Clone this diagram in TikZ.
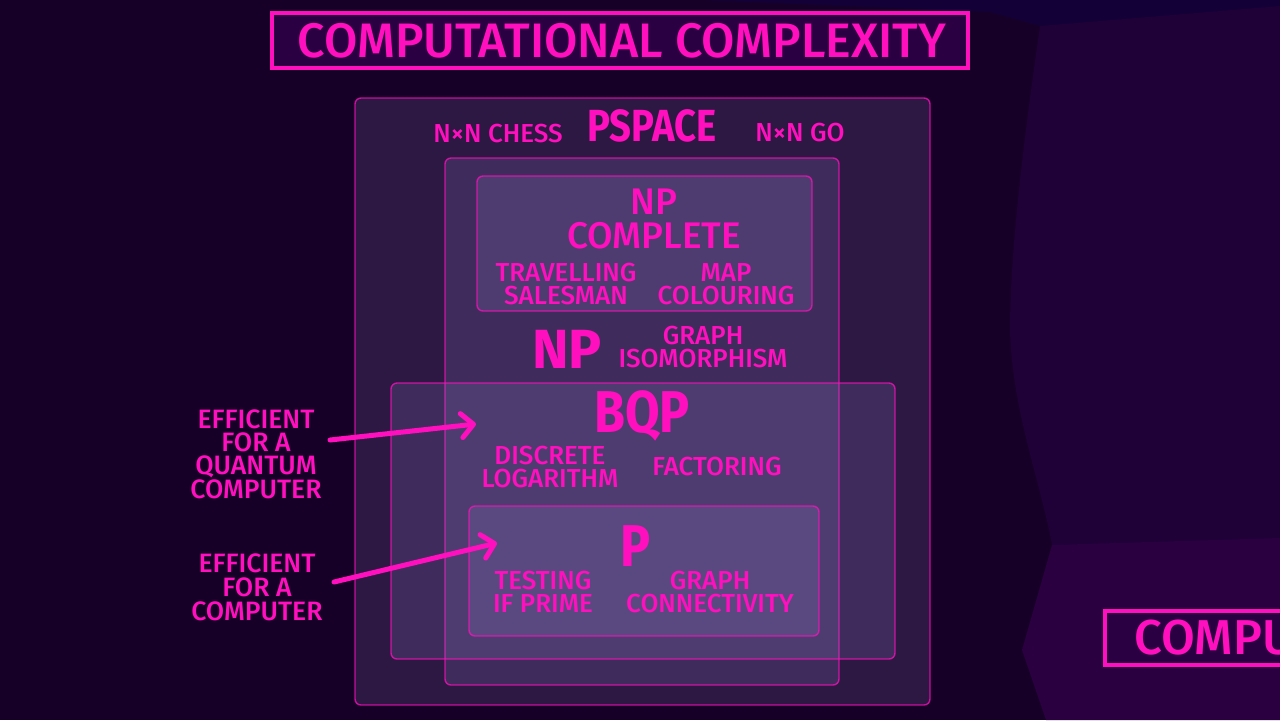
\documentclass[tikz,border=0pt]{standalone}
\usepackage{fontspec}
\setmainfont{Fira Sans}
\newfontfamily\bigfont{Fira Sans}[FakeStretch=0.85]
\newfontfamily\medfont{Fira Sans Medium}
\usetikzlibrary{arrows.meta}

\definecolor{bgdark}{HTML}{170027}
\definecolor{bgright}{HTML}{1F0037}
\definecolor{bgbottom}{HTML}{2A0040}
\definecolor{bgtop}{HTML}{130037}
\definecolor{neon}{HTML}{FF0FBE}
\definecolor{veil}{RGB}{150,135,205}
\definecolor{titlefill}{HTML}{2A0042}

\tikzset{
  classbox/.style={draw=neon, draw opacity=0.75, line width=0.7pt,
    fill=veil, fill opacity=0.18, rounded corners=3pt},
  titlebox/.style={draw=neon, line width=1.6pt, fill=titlefill},
  lbl/.style={text=neon, align=center, inner sep=0pt,
    font=\medfont\fontsize{13}{11.4}\selectfont},
  biglbl/.style={text=neon, align=center, inner sep=0pt},
  pointer/.style={->, draw=neon, line width=2.5pt, line cap=round}
}

\begin{document}
\begin{tikzpicture}[x=0.5pt, y=-0.5pt, >={Straight Barb[length=6pt,width=12pt,round]}]
    \clip (0,0) rectangle (1280,720);

    % 背景
    \fill[bgdark] (0,0) rectangle (1280,720);
    \fill[bgtop] (700,0) -- (1280,0) -- (1280,6) -- (1040,26) -- (990,12) -- cycle;
    \fill[bgright] (1040,26) -- (1280,6) -- (1280,540) -- (1052,545)
        .. controls (1040,480) and (1012,410) .. (1010,330)
        .. controls (1010,240) and (1028,110) .. (1040,26) -- cycle;
    \fill[bgbottom] (1052,545) -- (1280,538) -- (1280,720) -- (1046,720) -- (1022,650) -- cycle;

    % 标题
    \draw[titlebox] (272,13) rectangle (968,68);
    \node[text=neon, font=\medfont\fontsize{24.2}{25}\selectfont] (title) at (622,41) {COMPUTATIONAL COMPLEXITY};

    % 右下角被截断的标题
    \draw[titlebox] (1105,611) rectangle (1330,665);
    \node[text=neon, anchor=west, inner sep=0pt, font=\medfont\fontsize{24.5}{26}\selectfont] (titlecut) at (1134,638) {COMPU};

    % 复杂度类 (由外到内)
    \draw[classbox] (355,98) rectangle (930,705);   % PSPACE
    \draw[classbox] (445,158) rectangle (839,685);  % NP
    \draw[classbox] (477,176) rectangle (812,311);  % NP complete
    \draw[classbox] (391,383) rectangle (895,659);  % BQP
    \draw[classbox] (469,506) rectangle (819,636);  % P

    % PSPACE
    \node[biglbl, font=\bigfont\bfseries\fontsize{22.5}{24}\selectfont] (pspace) at (652,126) {PSPACE};
    \node[lbl] (chess) at (498,134) {N×N CHESS};
    \node[lbl] (go) at (800,133) {N×N GO};

    % NP complete
    \node[biglbl, font=\medfont\fontsize{18.5}{16.8}\selectfont] (npc) at (654,219) {NP\\COMPLETE};
    \node[lbl] (tsp) at (566,284) {TRAVELLING\\SALESMAN};
    \node[lbl] (mapcol) at (726,284) {MAP\\COLOURING};

    % NP
    \node[biglbl, font=\bfseries\fontsize{27.6}{30}\selectfont] (np) at (567,349) {NP};
    \node[lbl] (gi) at (703,347) {GRAPH\\ISOMORPHISM};

    % BQP
    \node[biglbl, font=\bigfont\bfseries\fontsize{29.5}{30}\selectfont] (bqp) at (642,416) {BQP};
    \node[lbl] (dlog) at (550,467) {DISCRETE\\LOGARITHM};
    \node[lbl] (fact) at (717,467) {FACTORING};

    % P
    \node[biglbl, font=\bigfont\bfseries\fontsize{29.5}{30}\selectfont] (pclass) at (636,546) {P};
    \node[lbl] (prime) at (543,592) {TESTING\\IF PRIME};
    \node[lbl] (gconn) at (710,592) {GRAPH\\CONNECTIVITY};

    % 左侧说明与箭头
    \node[lbl, font=\medfont\fontsize{13.3}{11.6}\selectfont] (effq) at (256,454) {EFFICIENT\\FOR A\\QUANTUM\\COMPUTER};
    \node[lbl, font=\medfont\fontsize{13.3}{12}\selectfont] (effc) at (257,587) {EFFICIENT\\FOR A\\COMPUTER};

    \coordinate (qtail) at (330,440);
    \coordinate (qhead) at (476,424);
    \coordinate (ctail) at (334,582);
    \coordinate (chead) at (497,543);
    \draw[pointer] (qtail) -- (qhead);
    \draw[pointer] (ctail) -- (chead);

\end{tikzpicture}
\end{document}
